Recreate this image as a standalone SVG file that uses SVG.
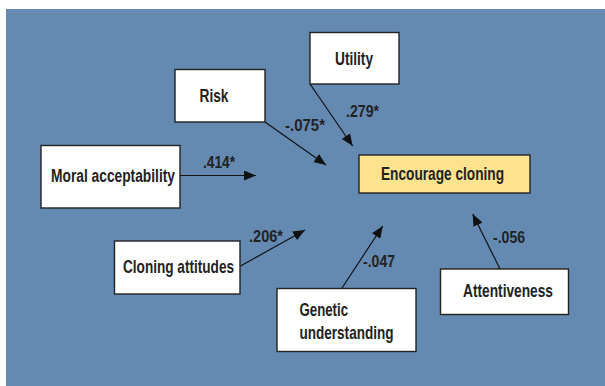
<svg xmlns="http://www.w3.org/2000/svg" width="605" height="386" viewBox="0 0 605 386">
  <defs>
    <marker id="ah" markerUnits="userSpaceOnUse" markerWidth="12" markerHeight="10" viewBox="0 0 12 10" refX="12" refY="5" orient="auto">
      <path d="M0,0 L12,5 L0,10 Z" fill="#111"/>
    </marker>
    <style>
      .box { fill: #ffffff; stroke: #222; stroke-width: 1.4; }
      .target { fill: #fde38d; stroke: #222; stroke-width: 1.4; }
      .lbl { font-family: "Liberation Sans", Arial, sans-serif; font-weight: bold; font-size: 18.5px; fill: #222; }
      .coef { font-family: "Liberation Sans", Arial, sans-serif; font-weight: bold; font-size: 17px; fill: #222; }
      .edge { stroke: #111; stroke-width: 1.2; fill: none; marker-end: url(#ah); }
    </style>
  </defs>
  <rect x="0" y="0" width="605" height="386" fill="#ffffff"/>
  <rect x="6" y="9" width="599" height="377" fill="#648ab2"/>

  <g id="connectors">
    <line class="edge" x1="310" y1="84" x2="352.7" y2="146"/>
    <line class="edge" x1="265" y1="122" x2="326" y2="165"/>
    <line class="edge" x1="180" y1="175.5" x2="256" y2="175.5"/>
    <line class="edge" x1="240.5" y1="266" x2="305" y2="230"/>
    <line class="edge" x1="341.7" y1="288.5" x2="382.7" y2="226"/>
    <line class="edge" x1="500" y1="269" x2="472.7" y2="214"/>
    <text class="coef" x="346" y="117" textLength="33" lengthAdjust="spacingAndGlyphs">.279*</text>
    <text class="coef" x="285" y="131" textLength="40" lengthAdjust="spacingAndGlyphs">-.075*</text>
    <text class="coef" x="203" y="168" textLength="32" lengthAdjust="spacingAndGlyphs">.414*</text>
    <text class="coef" x="249" y="242" textLength="34" lengthAdjust="spacingAndGlyphs">.206*</text>
    <text class="coef" x="363" y="267" textLength="32" lengthAdjust="spacingAndGlyphs">-.047</text>
    <text class="coef" x="493" y="243" textLength="32" lengthAdjust="spacingAndGlyphs">-.056</text>
  </g>

  <g id="utility">
    <rect class="box" x="310" y="32.5" width="89" height="51.5"/>
    <text class="lbl" x="354" y="65" text-anchor="middle" textLength="38" lengthAdjust="spacingAndGlyphs">Utility</text>
  </g>
  <g id="risk">
    <rect class="box" x="175" y="69.5" width="90" height="52.5"/>
    <text class="lbl" x="214" y="102" text-anchor="middle" textLength="29" lengthAdjust="spacingAndGlyphs">Risk</text>
  </g>
  <g id="moral">
    <rect class="box" x="41" y="145.5" width="139" height="62.5"/>
    <text class="lbl" x="113" y="181.5" text-anchor="middle" textLength="124" lengthAdjust="spacingAndGlyphs" style="font-size:17.5px">Moral acceptability</text>
  </g>
  <g id="encourage">
    <rect class="target" x="359" y="155" width="171" height="38"/>
    <text class="lbl" x="442.5" y="180" text-anchor="middle" textLength="123" lengthAdjust="spacingAndGlyphs">Encourage cloning</text>
  </g>
  <g id="attitudes">
    <rect class="box" x="114.5" y="241" width="125.5" height="53"/>
    <text class="lbl" x="178.5" y="272.5" text-anchor="middle" textLength="111" lengthAdjust="spacingAndGlyphs">Cloning attitudes</text>
  </g>
  <g id="genetic">
    <rect class="box" x="277" y="288.5" width="139" height="63"/>
    <text class="lbl" x="299.5" y="316.3" textLength="48.5" lengthAdjust="spacingAndGlyphs">Genetic</text>
    <text class="lbl" x="299.5" y="339" textLength="94" lengthAdjust="spacingAndGlyphs">understanding</text>
  </g>
  <g id="attentiveness">
    <rect class="box" x="440.5" y="269" width="128" height="45.5"/>
    <text class="lbl" x="508" y="296.7" text-anchor="middle" textLength="90" lengthAdjust="spacingAndGlyphs">Attentiveness</text>
  </g>
</svg>
